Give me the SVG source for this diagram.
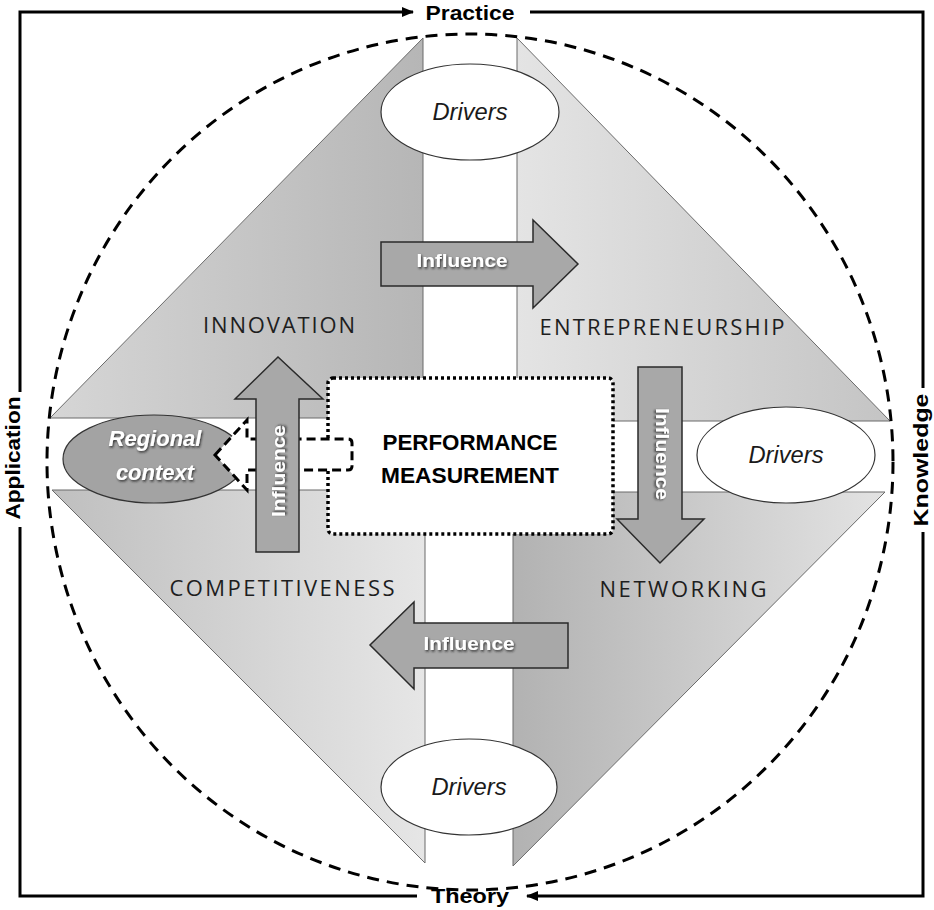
<svg xmlns="http://www.w3.org/2000/svg" width="934" height="910" viewBox="0 0 934 910">
<style>
.tri{stroke:#6a6a6a;stroke-width:1}
.drv{fill:#fff;stroke:#333;stroke-width:1.2}
.drvt{font-family:"Liberation Sans",Arial,sans-serif;font-style:italic;font-size:23px;fill:#1a1a1a;text-anchor:middle}
.lab{font-family:"Open Sans","Liberation Sans",sans-serif;font-size:22px;fill:#1e1e1e;text-anchor:middle}
.frm{font-family:"Liberation Sans",Arial,sans-serif;font-weight:bold;font-size:21px;fill:#000;text-anchor:middle}
.inf{fill:#a8a8a8;stroke:#2a2a2a;stroke-width:1.5}
.inft{font-family:"Liberation Sans",Arial,sans-serif;font-weight:bold;font-size:19px;fill:#fff;text-anchor:middle;filter:url(#sh)}
.fl{fill:none;stroke:#000;stroke-width:3}
</style>
<defs>
<linearGradient id="gtl" x1="0" y1="0" x2="1" y2="0"><stop offset="0" stop-color="#d6d6d6"/><stop offset="1" stop-color="#b6b6b6"/></linearGradient>
<linearGradient id="gtr" x1="0" y1="0" x2="1" y2="0"><stop offset="0" stop-color="#e4e4e4"/><stop offset="1" stop-color="#c4c4c4"/></linearGradient>
<linearGradient id="gbl" x1="0" y1="0" x2="1" y2="0"><stop offset="0" stop-color="#bfbfbf"/><stop offset="1" stop-color="#e6e6e6"/></linearGradient>
<linearGradient id="gbr" x1="0" y1="0" x2="1" y2="0"><stop offset="0" stop-color="#b2b2b2"/><stop offset="1" stop-color="#e3e3e3"/></linearGradient>
<filter id="sh" x="-20%" y="-40%" width="140%" height="180%"><feDropShadow dx="1" dy="1.5" stdDeviation="1" flood-color="#222" flood-opacity="0.85"/></filter>
<marker id="ah" markerUnits="userSpaceOnUse" markerWidth="12" markerHeight="10" refX="11" refY="5" orient="auto"><path d="M0,0 L12,5 L0,10 z" fill="#000"/></marker>
</defs>

<g id="quadrants">
<polygon id="q-innovation" class="tri" fill="url(#gtl)" points="423,38 50,418 423,418"/>
<polygon id="q-entrepreneurship" class="tri" fill="url(#gtr)" points="517,38 890,421 517,421"/>
<polygon id="q-competitiveness" class="tri" fill="url(#gbl)" points="52,490 425,490 425,863"/>
<polygon id="q-networking" class="tri" fill="url(#gbr)" points="513,492 885,492 513,866"/>
</g>

<g id="circle"><ellipse cx="470" cy="462" rx="423" ry="428" fill="none" stroke="#000" stroke-width="3" stroke-dasharray="12 8"/></g>

<g id="frame">
<path class="fl" d="M20,392 V12 H413" marker-end="url(#ah)"/>
<path class="fl" d="M530,12 H923 V388"/>
<path class="fl" d="M923,532 V896 H527" marker-end="url(#ah)"/>
<path class="fl" d="M417,896 H20 V527"/>
<text class="frm" x="470" y="20" textLength="89" lengthAdjust="spacingAndGlyphs">Practice</text>
<text class="frm" x="470" y="903" textLength="78" lengthAdjust="spacingAndGlyphs">Theory</text>
<text class="frm" transform="translate(20,458) rotate(-90)" textLength="123" lengthAdjust="spacingAndGlyphs">Application</text>
<text class="frm" transform="translate(928,460) rotate(-90)" textLength="133" lengthAdjust="spacingAndGlyphs">Knowledge</text>
</g>

<g id="labels">
<text class="lab" x="279" y="333" textLength="152" lengthAdjust="spacing">INNOVATION</text>
<text class="lab" x="662" y="335" textLength="245" lengthAdjust="spacing">ENTREPRENEURSHIP</text>
<text class="lab" x="282" y="596" textLength="225" lengthAdjust="spacing">COMPETITIVENESS</text>
<text class="lab" x="683" y="597" textLength="167" lengthAdjust="spacing">NETWORKING</text>
</g>

<g id="drivers-top"><ellipse class="drv" cx="470" cy="112" rx="89" ry="48"/><text class="drvt" x="470" y="120" textLength="75" lengthAdjust="spacingAndGlyphs">Drivers</text></g>
<g id="drivers-right"><ellipse class="drv" cx="786" cy="455" rx="89" ry="48"/><text class="drvt" x="786" y="463" textLength="75" lengthAdjust="spacingAndGlyphs">Drivers</text></g>
<g id="drivers-bottom"><ellipse class="drv" cx="469" cy="787" rx="88" ry="48"/><text class="drvt" x="469" y="795" textLength="75" lengthAdjust="spacingAndGlyphs">Drivers</text></g>

<g id="regional-context">
<ellipse cx="154" cy="459" rx="91" ry="44" fill="#a3a3a3" stroke="#333" stroke-width="1.2"/>
<text x="155" y="446" font-family="Liberation Sans, Arial, sans-serif" font-weight="bold" font-style="italic" font-size="22" fill="#fff" text-anchor="middle" filter="url(#sh)">Regional</text>
<text x="155" y="480" font-family="Liberation Sans, Arial, sans-serif" font-weight="bold" font-style="italic" font-size="22" fill="#fff" text-anchor="middle" filter="url(#sh)">context</text>
</g>

<g id="performance-measurement">
<rect x="328" y="378" width="285" height="156" rx="5" fill="#fff" stroke="#000" stroke-width="3.5" stroke-dasharray="3 3"/>
<text x="470" y="450" font-family="Liberation Sans, Arial, sans-serif" font-weight="bold" font-size="22" fill="#000" text-anchor="middle" textLength="175" lengthAdjust="spacingAndGlyphs">PERFORMANCE</text>
<text x="470" y="483" font-family="Liberation Sans, Arial, sans-serif" font-weight="bold" font-size="22" fill="#000" text-anchor="middle" textLength="178" lengthAdjust="spacingAndGlyphs">MEASUREMENT</text>
</g>

<g id="connectors">
<g id="influence-right">
<polygon class="inf" points="381,242 533,242 533,220 578,264 533,308 533,286 381,286"/>
<text class="inft" x="462" y="267" textLength="91" lengthAdjust="spacingAndGlyphs">Influence</text>
</g>
<g id="influence-left">
<polygon class="inf" points="568,623 414,623 414,602 370,645 414,689 414,668 568,668"/>
<text class="inft" x="469" y="650" textLength="91" lengthAdjust="spacingAndGlyphs">Influence</text>
</g>
<g id="regional-arrow">
<path d="M215,455 L247,420 L247,439 L348,439 Q352,439 352,443 L352,466 Q352,470 348,470 L247,470 L247,490 Z" fill="#fff" stroke="#000" stroke-width="3" stroke-dasharray="9 5"/>
</g>
<g id="influence-up">
<polygon class="inf" points="256,552 256,399 235,399 278,357 323,399 299,399 299,552"/>
<text class="inft" transform="translate(285,471) rotate(-90)" textLength="92" lengthAdjust="spacingAndGlyphs">Influence</text>
</g>
<g id="influence-down">
<polygon class="inf" points="638,367 682,367 682,519 704,519 660,563 617,519 638,519"/>
<text class="inft" transform="translate(656,454) rotate(90)" textLength="92" lengthAdjust="spacingAndGlyphs">Influence</text>
</g>
</g>
</svg>
